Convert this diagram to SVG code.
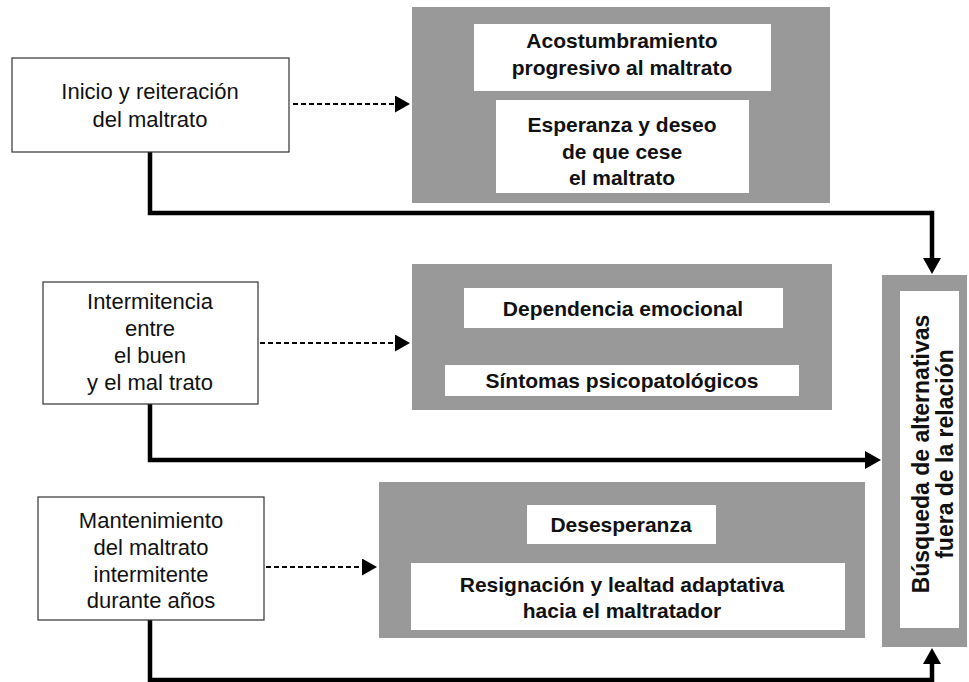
<svg xmlns="http://www.w3.org/2000/svg" width="969" height="682" viewBox="0 0 969 682">
<style>
.bg{fill:#ffffff}
.src{fill:#ffffff;stroke:#333333;stroke-width:1.2}
.panel{fill:#999999}
.inner{fill:#ffffff}
.t{font-family:"Liberation Sans",Arial,sans-serif;font-size:22px;fill:#111111;text-anchor:middle}
.b{font-family:"Liberation Sans",Arial,sans-serif;font-size:21px;font-weight:bold;fill:#111111;text-anchor:middle}
.rot{font-size:23px}
.solid{fill:none;stroke:#000000;stroke-width:4.5;stroke-linejoin:miter}
.dash{fill:none;stroke:#000000;stroke-width:2.2;stroke-dasharray:5 3}
</style>
<defs>
<marker id="ah" viewBox="0 0 16 18" refX="0" refY="9" markerWidth="16" markerHeight="18" markerUnits="userSpaceOnUse" orient="auto">
<path d="M0,0 L16,9 L0,18 z" fill="#000000"/>
</marker>
<marker id="ahs" viewBox="0 0 15 17" refX="0" refY="8.5" markerWidth="15" markerHeight="17" markerUnits="userSpaceOnUse" orient="auto">
<path d="M0,0 L15,8.5 L0,17 z" fill="#000000"/>
</marker>
</defs>
<rect class="bg" x="0" y="0" width="969" height="682"/>

<g id="connectors">
<path class="dash" d="M293,104 H395" marker-end="url(#ahs)"/>
<path class="dash" d="M260,343 H395" marker-end="url(#ahs)"/>
<path class="dash" d="M266,567 H362" marker-end="url(#ahs)"/>
<path class="solid" d="M150,152 V213 H932 V258" marker-end="url(#ah)"/>
<path class="solid" d="M150,404 V460 H865" marker-end="url(#ah)"/>
<path class="solid" d="M150,620 V680 H932 V664" marker-end="url(#ah)"/>
</g>

<g id="node-inicio">
<rect class="src" x="12" y="58" width="277" height="94"/>
<text class="t" x="150" y="99">Inicio y reiteración</text>
<text class="t" x="150" y="127">del maltrato</text>
</g>

<g id="node-intermitencia">
<rect class="src" x="43" y="282" width="215" height="122"/>
<text class="t" x="150" y="309">Intermitencia</text>
<text class="t" x="150" y="336">entre</text>
<text class="t" x="150" y="363">el buen</text>
<text class="t" x="150" y="390">y el mal trato</text>
</g>

<g id="node-mantenimiento">
<rect class="src" x="38" y="497" width="226" height="123"/>
<text class="t" x="151" y="528">Mantenimiento</text>
<text class="t" x="151" y="555">del maltrato</text>
<text class="t" x="151" y="582">intermitente</text>
<text class="t" x="151" y="608">durante años</text>
</g>

<g id="panel-1">
<rect class="panel" x="412" y="7" width="418" height="196"/>
<g id="acostumbramiento">
<rect class="inner" x="474" y="24" width="297" height="67"/>
<text class="b" x="622" y="48">Acostumbramiento</text>
<text class="b" x="622" y="75">progresivo al maltrato</text>
</g>
<g id="esperanza">
<rect class="inner" x="496" y="100" width="253" height="93"/>
<text class="b" x="622" y="132">Esperanza y deseo</text>
<text class="b" x="622" y="159">de que cese</text>
<text class="b" x="622" y="185">el maltrato</text>
</g>
</g>

<g id="panel-2">
<rect class="panel" x="412" y="264" width="420" height="146"/>
<g id="dependencia">
<rect class="inner" x="464" y="288" width="319" height="40"/>
<text class="b" x="623" y="316">Dependencia emocional</text>
</g>
<g id="sintomas">
<rect class="inner" x="445" y="365" width="354" height="31"/>
<text class="b" x="622" y="388">Síntomas psicopatológicos</text>
</g>
</g>

<g id="panel-3">
<rect class="panel" x="379" y="482" width="486" height="156"/>
<g id="desesperanza">
<rect class="inner" x="527" y="505" width="189" height="39"/>
<text class="b" x="621" y="532">Desesperanza</text>
</g>
<g id="resignacion">
<rect class="inner" x="411" y="563" width="434" height="67"/>
<text class="b" x="622" y="592">Resignación y lealtad adaptativa</text>
<text class="b" x="622" y="618">hacia el maltratador</text>
</g>
</g>

<g id="node-busqueda">
<rect class="panel" x="882" y="275" width="85" height="372"/>
<rect class="inner" x="900" y="291" width="59" height="337"/>
<g transform="translate(0,454) rotate(-90)">
<text class="b rot" x="0" y="929">Búsqueda de alternativas</text>
<text class="b rot" x="0" y="953">fuera de la relación</text>
</g>
</g>
</svg>
